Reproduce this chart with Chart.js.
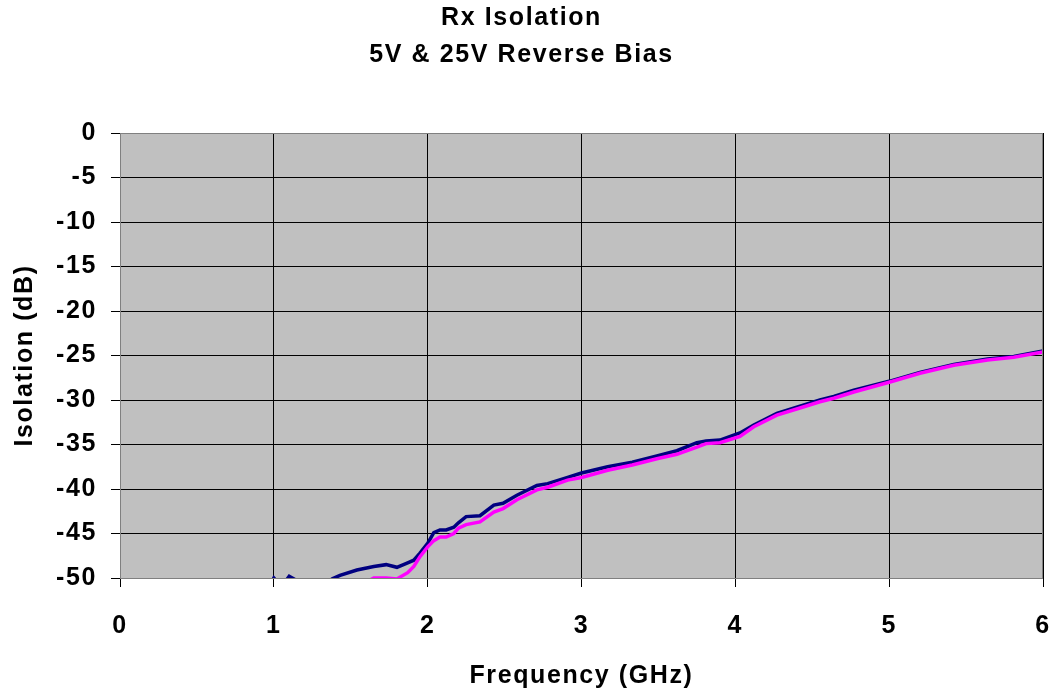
<!DOCTYPE html>
<html>
<head>
<meta charset="utf-8">
<script src="https://cdn.jsdelivr.net/npm/chart.js@4"></script>
<style>
  html, body { margin: 0; padding: 0; background: #fff; }
  #wrap { width: 1053px; height: 694px; }
</style>
</head>
<body>
<div id="wrap"><canvas id="isoChart" width="1053" height="694"></canvas></div>
<script>
// frequency points (GHz)
const freqGHz = [0.05, 0.5, 0.9, 1.0, 1.05, 1.1, 1.15, 1.2, 1.3, 1.38, 1.43, 1.54, 1.65, 1.73, 1.8, 1.87, 1.91, 1.95,
  2.0, 2.04, 2.08, 2.12, 2.17, 2.2, 2.25, 2.34, 2.43, 2.49, 2.58, 2.71, 2.78, 2.91, 3.0, 3.17, 3.33, 3.49, 3.62,
  3.75, 3.81, 3.9, 4.03, 4.12, 4.27, 4.42, 4.55, 4.64, 4.77, 5.0, 5.2, 5.42, 5.64, 5.81, 6.0];

// isolation, 5V reverse bias (navy)
const iso5V = [-60, -58, -53, -50.0, -51, -49.8, -50.3, -51, -51, -50.1, -49.7, -49.1, -48.7, -48.5, -48.8, -48.3, -48.0, -47.2,
  -46.1, -44.9, -44.6, -44.6, -44.3, -43.8, -43.1, -43.0, -41.8, -41.6, -40.7, -39.6, -39.4, -38.7, -38.2, -37.5, -37.0, -36.3, -35.7,
  -34.8, -34.6, -34.5, -33.7, -32.8, -31.5, -30.7, -30.0, -29.6, -28.9, -27.9, -26.9, -26.0, -25.4, -25.1, -24.5];

// isolation, 25V reverse bias (magenta)
const iso25V = [-65, -62, -58, -57, -56, -55, -55, -54, -53, -52, -51.5, -51, -50.0, -50.0, -50.1, -49.4, -48.7, -47.6,
  -46.5, -45.8, -45.4, -45.4, -45.0, -44.4, -44.0, -43.7, -42.6, -42.2, -41.2, -40.1, -39.8, -39.0, -38.7, -37.9, -37.3, -36.6, -36.1,
  -35.3, -34.9, -34.8, -34.1, -33.0, -31.7, -30.9, -30.2, -29.8, -29.1, -28.0, -27.0, -26.1, -25.5, -25.2, -24.6];

const xTicks = [0, 1, 2, 3, 4, 5, 6];
const yTicks = [0, -5, -10, -15, -20, -25, -30, -35, -40, -45, -50];

const toPts = (ys) => freqGHz.map((f, i) => ({ x: f, y: ys[i] }));

const FONT = "'Liberation Sans', Arial, sans-serif";
const SPACING = '1.6px';

// gray plot area + wide lettering like the old Excel picture
const plotBg = {
  id: 'plotBg',
  beforeLayout(chart) {
    chart.ctx.letterSpacing = SPACING;
  },
  beforeDraw(chart) {
    const a = chart.chartArea;
    const ctx = chart.ctx;
    ctx.letterSpacing = SPACING;
    ctx.save();
    ctx.fillStyle = '#c0c0c0';
    ctx.fillRect(a.left, a.top, a.right - a.left, a.bottom - a.top);
    ctx.restore();
  },
  afterDatasetsDraw(chart) {
    const a = chart.chartArea;
    const ctx = chart.ctx;
    ctx.save();
    ctx.strokeStyle = '#808080';
    ctx.lineWidth = 1;
    ctx.strokeRect(a.left + 0.5, a.top + 0.5, a.right - a.left - 1, a.bottom - a.top);
    ctx.restore();
  }
};

new Chart(document.getElementById('isoChart'), {
  type: 'scatter',
  data: {
    datasets: [
      {
        label: '5V',
        data: toPts(iso5V),
        showLine: true,
        borderColor: '#000080',
        borderWidth: 3.5,
        pointRadius: 0,
        tension: 0,
        order: 2
      },
      {
        label: '25V',
        data: toPts(iso25V),
        showLine: true,
        borderColor: '#ff00ff',
        borderWidth: 3.5,
        pointRadius: 0,
        tension: 0,
        order: 1
      }
    ]
  },
  options: {
    responsive: false,
    animation: false,
    layout: { padding: { left: 0, right: 10, top: 0, bottom: 0 } },
    plugins: {
      legend: { display: false },
      tooltip: { enabled: false },
      title: {
        display: true,
        text: ['Rx Isolation', '5V & 25V Reverse Bias'],
        color: '#000',
        font: { family: FONT, size: 25, weight: 'bold', lineHeight: 1.48 },
        padding: { top: 0, bottom: 59 }
      }
    },
    scales: {
      x: {
        type: 'linear',
        min: 0,
        max: 6,
        afterBuildTicks: (ax) => { ax.ticks = xTicks.map(v => ({ value: v })); },
        afterFit: (ax) => { ax.height = 116; },
        ticks: {
          color: '#000',
          font: { family: FONT, size: 25, weight: 'bold', lineHeight: 1.05 },
          padding: 0,
          // blank first line pushes the numbers down without widening the side padding
          callback: (v) => ['', String(v)]
        },
        grid: { color: '#000', lineWidth: 1, tickLength: 9, tickColor: '#000' },
        border: { display: false },
        title: {
          display: true,
          text: 'Frequency (GHz)',
          color: '#000',
          font: { family: FONT, size: 25, weight: 'bold' },
          padding: { top: 0, bottom: 3 }
        }
      },
      y: {
        type: 'linear',
        min: -50,
        max: 0,
        afterBuildTicks: (ax) => { ax.ticks = yTicks.map(v => ({ value: v })); },
        afterFit: (ax) => { ax.width = 120; },
        ticks: { color: '#000', font: { family: FONT, size: 25, weight: 'bold' }, padding: 14 },
        grid: { color: '#000', lineWidth: 1, tickLength: 9, tickColor: '#000' },
        border: { display: false },
        title: {
          display: true,
          text: 'Isolation (dB)',
          color: '#000',
          font: { family: FONT, size: 25, weight: 'bold' },
          padding: { top: 10, bottom: 0 }
        }
      }
    }
  },
  plugins: [plotBg]
});
</script>
</body>
</html>
